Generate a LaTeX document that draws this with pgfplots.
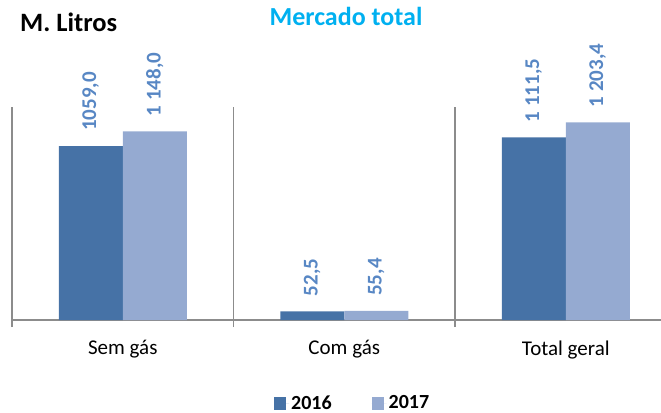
\documentclass[border=0pt]{standalone}
\usepackage{pgfplots}
\pgfplotsset{compat=1.18}
\usepackage{fontspec}
\setmainfont{Carlito}
\definecolor{c16}{HTML}{4672A6}
\definecolor{c17}{HTML}{95AAD1}
\definecolor{lab}{HTML}{5887C4}
\definecolor{ax}{HTML}{8C8C8C}
\definecolor{ttl}{HTML}{00B0F0}
\begin{document}
\begin{tikzpicture}
\useasboundingbox (-12bp,-93bp) rectangle (649bp,320bp);
\begin{axis}[
 x=221.5bp, y=0.1643bp,
 xmin=-0.5, xmax=2.43, ymin=0, ymax=1296,
 clip=false,
 axis x line*=bottom, axis y line*=left,
 axis line style={ax, line width=1.5bp, -},
 ytick=\empty,
 xtick={-0.5,0.5,1.5}, xticklabels={},
 xmajorgrids, grid style={ax, line width=1.5bp},
 tick align=outside, major tick length=7bp, tick style={ax, line width=1.5bp},
 extra x ticks={0,1,2}, extra x tick labels={Sem gás,Com gás,Total geral},
 extra x tick style={xmajorgrids=false, major tick length=0pt,
   tick label style={font=\fontsize{21bp}{25bp}\selectfont, yshift=-17bp}},
 ybar=0pt, bar width=64bp,
 point meta=explicit symbolic,
 nodes near coords,
 nodes near coords style={rotate=90, anchor=west, text=lab,
   font=\bfseries\fontsize{21bp}{25bp}\selectfont, inner xsep=15bp, inner ysep=0pt},
 legend columns=2,
 legend style={at={(0.525,-0.39)}, anchor=center, draw=none, fill=none,
   font=\bfseries\fontsize{20bp}{24bp}\selectfont,
   /tikz/every even column/.append style={column sep=38bp}},
 legend image code/.code={\fill[#1] (0bp,-6.5bp) rectangle (12bp,6.5bp); \path (0bp,0bp) -- (15bp,0bp);},
]
\addplot[fill=c16, draw=none] coordinates {(0,1059.0) [1059,0] (1,52.5) [52,5] (2,1111.5) [1 111,5]};
\addplot[fill=c17, draw=none] coordinates {(0,1148.0) [1 148,0] (1,55.4) [55,4] (2,1203.4) [1 203,4]};
\legend{2016,2017}
\end{axis}
\node[anchor=base, text=ttl, font=\bfseries\fontsize{26bp}{31bp}\selectfont] at (334bp,294bp) {Mercado total};
\node[anchor=base west, inner sep=0pt, font=\bfseries\fontsize{26.5bp}{31bp}\selectfont] at (8bp,288bp) {M. Litros};
\end{tikzpicture}
\end{document}
